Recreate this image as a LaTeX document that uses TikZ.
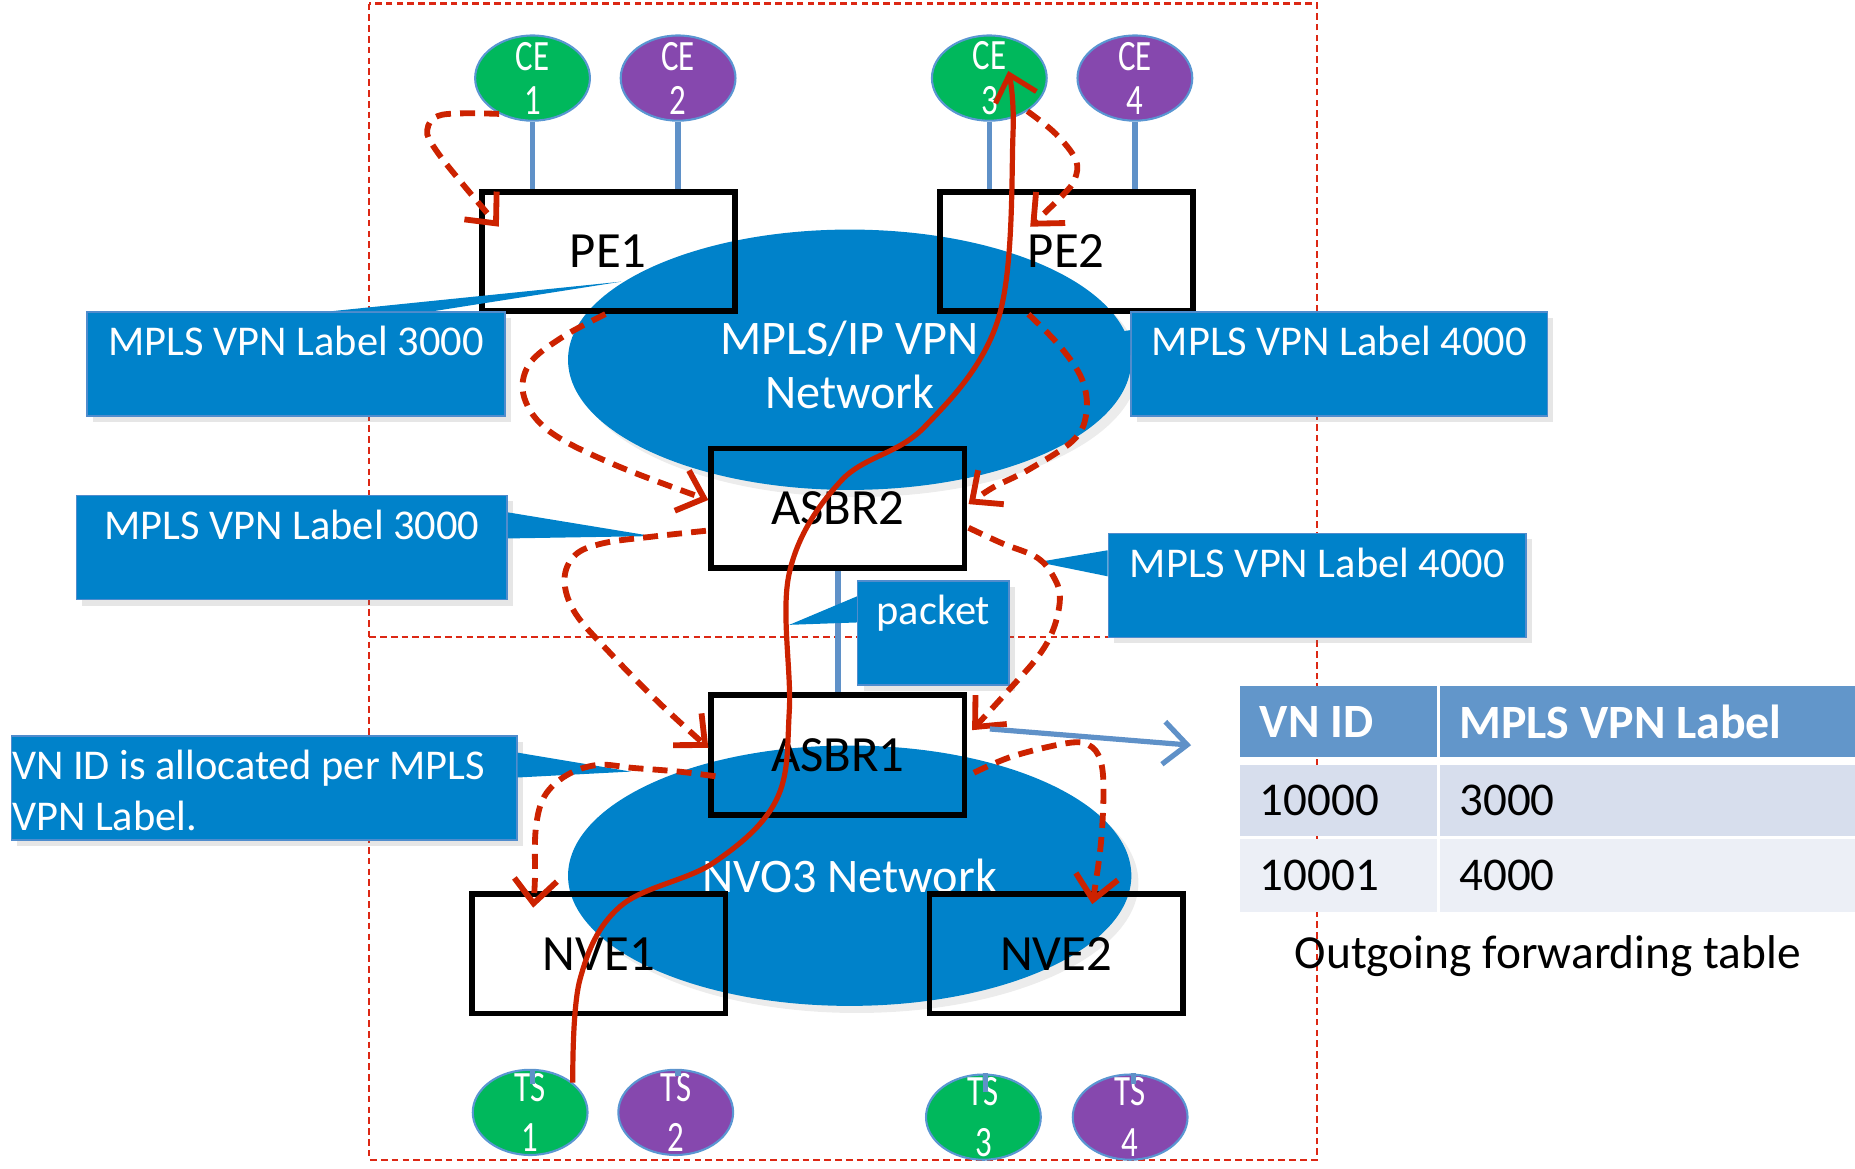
\documentclass[tikz,border=0pt]{standalone}
\usepackage{fontspec}
\setmainfont{Carlito}
\newfontfamily\narrowfont[FakeStretch=0.76]{Carlito}
\usetikzlibrary{arrows.meta, calc, positioning, shapes.geometric, shadows}

\definecolor{netblue}{RGB}{0,130,202}
\definecolor{calloutedge}{RGB}{80,140,205}
\definecolor{cegreen}{RGB}{0,184,92}
\definecolor{cepurple}{RGB}{134,72,174}
\definecolor{nodeedge}{RGB}{90,150,210}
\definecolor{stemblue}{RGB}{95,145,200}
\definecolor{hopred}{RGB}{204,34,0}
\definecolor{framered}{RGB}{220,40,20}
\definecolor{headblue}{RGB}{98,150,202}
\definecolor{rowone}{RGB}{215,222,237}
\definecolor{rowtwo}{RGB}{236,239,246}

\begin{document}
\begin{tikzpicture}[x=0.1mm, y=0.1mm,
	dashframe/.style={draw=framered, line width=0.5pt, dash pattern=on 1.6pt off 1pt},
	network/.style={ellipse, fill=netblue, minimum width=47.6mm, minimum height=22mm, text=white, align=center,
		font=\fontsize{11.6}{13}\selectfont, drop shadow={opacity=0.15, shadow xshift=0.6mm, shadow yshift=-0.6mm}},
	device/.style={rectangle, draw=black, line width=1.4pt, minimum width=21.4mm, minimum height=10.1mm,
		font=\fontsize{12.2}{14}\selectfont},
	site/.style={ellipse, draw=nodeedge, line width=0.5pt, minimum width=9.7mm, minimum height=7.2mm, inner sep=0pt},
	sitename/.style={anchor=center, inner sep=0pt, text=white, align=center, font=\narrowfont\fontsize{10.4}{10.6}\selectfont},
	hostname/.style={sitename, font=\narrowfont\fontsize{10.4}{12.2}\selectfont},
	uplink/.style={draw=stemblue, line width=1.3pt},
	balloon/.style={rectangle, anchor=north west, fill=netblue, draw=calloutedge, line width=0.4pt, inner xsep=0pt,
		inner ysep=0pt, text height=3.7mm, text depth=5.1mm, text=white, font=\fontsize{10.2}{12.2}\selectfont,
		drop shadow={opacity=0.2, shadow xshift=0.5mm, shadow yshift=-0.5mm}},
	balloontip/.style={fill=netblue},
	headcell/.style={rectangle, anchor=north west, fill=headblue, inner xsep=1.65mm, inner ysep=0pt, minimum height=6mm,
		align=flush left, text=white, font=\bfseries\fontsize{11.5}{13}\selectfont},
	bodycell/.style={headcell, text=black, font=\fontsize{11.3}{13}\selectfont},
	hop/.style={draw=hopred, line width=1.4pt, dash pattern=on 3.6pt off 2.2pt, -{Straight Barb[length=2mm, width=3.6mm]}},
	route/.style={draw=hopred, line width=1.25pt, -{Straight Barb[length=2mm, width=3.6mm]}},
	export/.style={draw=stemblue, line width=1.25pt, -{Straight Barb[length=2mm, width=3.6mm]}}]
		\useasboundingbox (0, 0) rectangle (1567.5, -987);
		\draw[dashframe] (312, -3) rectangle (1113, -980);
		\draw[dashframe] (312, -538) -- (1113, -538);
		\begin{scope}
			\node[network, text height=23.5pt] (MPLS) at (718, -304) {MPLS/IP VPN\\Network};
			\node[device] (PE1) at (514, -212.5) {PE1};
			\node[device] (PE2) at (901, -212.5) {PE2};
			\node[device] (ASBR2) at (708, -429.5) {ASBR2};
			\node[site, fill=cegreen, label={[sitename]center:CE\\1}] (CE1) at (450, -66) {};
			\node[site, fill=cepurple, label={[sitename]center:CE\\2}] (CE2) at (573, -66) {};
			\node[site, fill=cegreen, label={[sitename]center:CE\\3}] (CE3) at (836, -66) {};
			\node[site, fill=cepurple, label={[sitename]center:CE\\4}] (CE4) at (959, -66) {};
			\draw[uplink] (CE1.south) -- (CE1.south |- PE1.north);
			\draw[uplink] (CE2.south) -- (CE2.south |- PE1.north);
			\draw[uplink] (CE3.south) -- (CE3.south |- PE2.north);
			\draw[uplink] (CE4.south) -- (CE4.south |- PE2.north);
		\end{scope}
		\begin{scope}
			\node[network] (NVO) at (718, -740) {NVO3 Network};
			\node[device] (ASBR1) at (708, -638) {ASBR1};
			\node[device] (NVE1) at (506, -806) {NVE1};
			\node[device] (NVE2) at (892.5, -806) {NVE2};
			\node[site, fill=cegreen, label={[hostname]center:TS\\1}] (TS1) at (448, -940) {};
			\node[site, fill=cepurple, label={[hostname]center:TS\\2}] (TS2) at (571, -940) {};
			\node[site, fill=cegreen, label={[hostname]center:TS\\3}] (TS3) at (831, -944) {};
			\node[site, fill=cepurple, label={[hostname]center:TS\\4}] (TS4) at (955, -944) {};
			\draw[uplink] ($(TS1.north)+(2,-13)$) -- ($(TS1.north)+(2,0)$ |- NVE1.south);
			\draw[uplink] ($(TS2.north)+(2,-6)$) -- ($(TS2.north)+(2,0)$ |- NVE1.south);
			\draw[uplink] ($(TS3.north)+(2,-16)$) -- ($(TS3.north)+(2,0)$ |- NVE2.south);
			\draw[uplink] ($(TS4.north)+(3,-9)$) -- ($(TS4.north)+(3,0)$ |- NVE2.south);
		\end{scope}
		\draw[uplink] (ASBR2.south) -- (ASBR1.north);
		\node[balloon, minimum width=35.3mm] (cPE1) at (73, -263) {MPLS VPN Label 3000};
		\node[balloon, minimum width=36.4mm] (cASBR2L) at (64, -418) {MPLS VPN Label 3000};
		\node[balloon, text width=42.6mm, inner xsep=0.05mm, align=flush left] (cVN) at (9, -621) {VN ID is allocated per MPLS\\VPN Label.};
		\node[balloon, minimum width=35.2mm] (cPE2) at (955, -263) {MPLS VPN Label 4000};
		\node[balloon, minimum width=35.3mm] (cASBR2R) at (936, -450) {MPLS VPN Label 4000};
		\node[balloon, minimum width=12.8mm] (cPacket) at (724, -490) {packet};
		\coordinate (tipPE1) at (525, -238);
		\coordinate (tipASBR2L) at (551, -453);
		\coordinate (tipVN) at (533, -652);
		\coordinate (tipPE2) at (894, -288);
		\coordinate (tipASBR2R) at (877, -475);
		\coordinate (tipPacket) at (667, -528);
		\fill[balloontip] ($(cPE1.north west)+(207,0)$) -- (tipPE1) -- ($(cPE1.north west)+(293,0)$) -- cycle;
		\fill[balloontip] ($(cASBR2L.north east)+(0,-15)$) -- (tipASBR2L) -- ($(cASBR2L.north east)+(0,-37)$) -- cycle;
		\fill[balloontip] ($(cVN.north east)+(0,-15)$) -- (tipVN) -- ($(cVN.north east)+(0,-36)$) -- cycle;
		\fill[balloontip] ($(cPE2.north west)+(0,-16)$) -- (tipPE2) -- ($(cPE2.north west)+(0,-37)$) -- cycle;
		\fill[balloontip] ($(cASBR2R.north west)+(0,-15)$) -- (tipASBR2R) -- ($(cASBR2R.north west)+(0,-37)$) -- cycle;
		\fill[balloontip] ($(cPacket.north west)+(0,-14)$) -- (tipPacket) -- ($(cPacket.north west)+(0,-36)$) -- cycle;
		\node[headcell, text width=13.3mm] (hID) at (1047.5, -579) {VN ID};
		\node[headcell, text width=31.9mm] (hLabel) at (1216, -579) {MPLS VPN Label};
		\node[bodycell, fill=rowone, text width=13.3mm] (idA) at (1047.5, -645.5) {10000};
		\node[bodycell, fill=rowone, text width=31.9mm] (labelA) at (1216, -645.5) {3000};
		\node[bodycell, fill=rowtwo, text width=13.3mm, minimum height=6.2mm] (idB) at (1047.5, -708) {10001};
		\node[bodycell, fill=rowtwo, text width=31.9mm, minimum height=6.2mm] (labelB) at (1216, -708) {4000};
		\node[font=\fontsize{11.4}{13}\selectfont] (caption) at (1308, -808) {Outgoing forwarding table};
		\coordinate (inPE1) at ($(PE1.north west)+(17,-32)$);
		\coordinate (inPE2) at ($(PE2.north west)+(79,-32)$);
		\coordinate (inASBR2L) at ($(ASBR2.west)+(0,7)$);
		\coordinate (inASBR2R) at ($(ASBR2.east)+(1,3.5)$);
		\coordinate (inASBR1L) at ($(ASBR1.west)+(0,6)$);
		\coordinate (inASBR1R) at ($(ASBR1.east)+(4,21)$);
		\coordinate (inNVE1) at ($(NVE1.north west)+(54,-14)$);
		\coordinate (inNVE2) at ($(NVE2.north east)+(-79,-11)$);
		\coordinate (routeEnd) at ($(CE3.center)+(16,6)$);
		\draw[hop] plot[smooth, tension=0.6] coordinates {(CE1.227) (373.5, -97) (361, -110) (368.5, -127) (393, -158) (inPE1)};
		\draw[hop] plot[smooth, tension=0.6] coordinates {(CE3.-41) (892, -113) (909, -135) (908, -152) (897, -166) (inPE2)};
		\draw[hop] plot[smooth, tension=0.6] coordinates {($(PE1.south)+(-2.4,0)$) (475, -285) (447, -308) (443, -336) (465, -365) (520, -393) (inASBR2L)};
		\draw[hop] plot[smooth, tension=0.6] coordinates {($(PE2.south)+(-32,0)$) (896, -293) (914.5, -321) (918, -349) (907, -372) (869, -397) (839, -412) (inASBR2R)};
		\draw[hop] plot[smooth, tension=0.6] coordinates {($(ASBR2.west)+(-2,-19)$) (551, -453.5) (510, -459) (486, -469) (477, -490) (486, -518) (515.7, -552) (557, -594) (inASBR1L)};
		\draw[hop] plot[smooth, tension=0.6] coordinates {($(ASBR2.east)+(1,-16.5)$) (846.5, -459) (877, -471.6) (891.7, -490) (895.6, -507) (890, -532) (877, -555) (850, -585.8) (inASBR1R)};
		\draw[hop] plot[smooth, tension=0.6] coordinates {($(ASBR1.west)+(6,-18)$) (573.4, -652) (535.7, -649) (505, -646.4) (479, -655) (460, -673) (452.7, -701) (452, -743.6) (inNVE1)};
		\draw[hop] plot[smooth, tension=0.6] coordinates {($(ASBR1.east)+(5.5,-15)$) (856, -639) (901.6, -628) (920, -629.6) (929.7, -642) (932.5, -667.6) (930, -715.5) (inNVE2)};
		\draw[route] plot[smooth, tension=0.6] coordinates {(TS1.35) (490, -828) (524, -766) (603, -729) (656, -676) (667, -600) (667, -484) (711, -406) (781, -361) (844, -268) (856, -113) (routeEnd)};
		\draw[export] ($(ASBR1.east)+(19,22)$) -- ($(hID.west)+(-41,-20)$);
	\end{tikzpicture}
\end{document}
